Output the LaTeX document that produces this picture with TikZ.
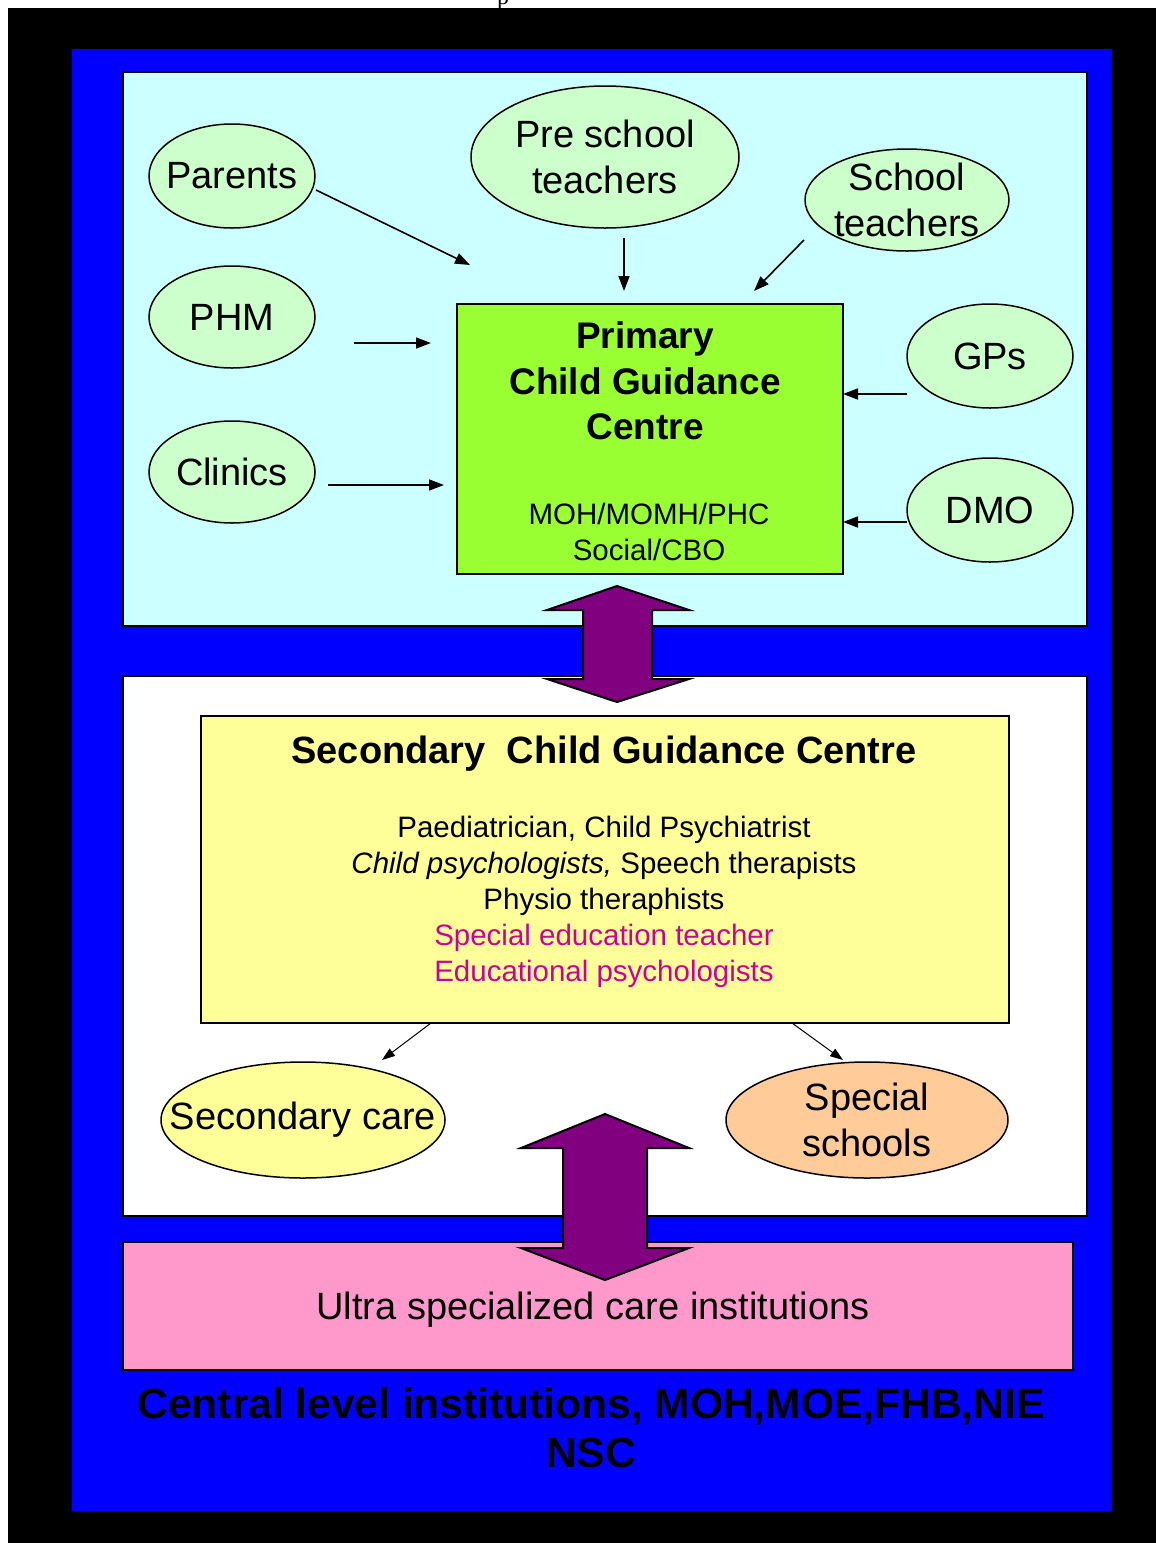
\documentclass[tikz,border=0pt]{standalone}
\usepackage{fontspec}
\setmainfont{Liberation Sans}
\newfontfamily\serifp{Liberation Serif}
\usetikzlibrary{shapes.geometric,arrows.meta}
\definecolor{cyanbg}{HTML}{CCFFFF}
\definecolor{ellgreen}{HTML}{CCFFCC}
\definecolor{primgreen}{HTML}{99FF33}
\definecolor{secyellow}{HTML}{FFFF99}
\definecolor{orangeell}{HTML}{FFCC99}
\definecolor{pinkbox}{HTML}{FF99CC}
\definecolor{purplearr}{HTML}{800080}
\definecolor{magtext}{HTML}{CC0099}
\definecolor{bluebg}{HTML}{0000FF}
\tikzset{
  panel/.style={draw=black, line width=2pt},
  oval/.style={ellipse, draw=black, line width=1.5pt, fill=ellgreen, inner sep=0pt},
  ovaltext/.style={inner sep=0pt, align=center, font=\fontsize{38}{46}\selectfont},
  ptr/.style={line width=1.6pt, -{Triangle[length=15pt,width=11pt]}},
  thinptr/.style={line width=1pt, -{Triangle[length=13pt,width=9pt]}},
  dblarrow/.style={draw=black, line width=2pt, fill=purplearr, line join=miter},
  boxnode/.style={draw=black, line width=2pt, inner sep=0pt},
  txt/.style={inner sep=0pt, align=center}
}
\begin{document}
\begin{tikzpicture}[x=1pt,y=-1pt]
\useasboundingbox (0,0) rectangle (1156,1543);
\fill[white] (0,0) rectangle (1156,1543);
\begin{scope}
\clip (0,0) rectangle (1156,8);
\node[txt, anchor=base, font=\serifp\fontsize{24}{28}\selectfont] (pfrag) at (503,4) {p};
\end{scope}
\fill[black] (8,8) rectangle (1156,1543);
\fill[bluebg] (72,49) rectangle (1112,1511);
% panels
\draw[panel, fill=cyanbg] (123,72) rectangle (1087,626);
\draw[panel, fill=white] (123,676) rectangle (1087,1216);
\draw[panel, fill=pinkbox] (123,1242) rectangle (1073,1370);

% top ellipses
\node[oval, minimum width=166pt, minimum height=104pt] (parents) at (232,176) {};
\node[ovaltext] (parentsT) at (parents.center) {Parents};
\node[oval, minimum width=268pt, minimum height=142pt] (presch) at (605,157) {};
\node[ovaltext] (preschT) at (presch.center) {Pre school\\teachers};
\node[oval, minimum width=204pt, minimum height=102pt] (schoolt) at (907,200) {};
\node[ovaltext] (schooltT) at (schoolt.center) {School\\teachers};
\node[oval, minimum width=166pt, minimum height=102pt] (phm) at (232,317) {};
\node[ovaltext] (phmT) at (phm.center) {PHM};
\node[oval, minimum width=166pt, minimum height=102pt] (clinics) at (232,472) {};
\node[ovaltext] (clinicsT) at (clinics.center) {Clinics};
\node[oval, minimum width=166pt, minimum height=104pt] (gps) at (990,356) {};
\node[ovaltext] (gpsT) at (gps.center) {GPs};
\node[oval, minimum width=166pt, minimum height=104pt] (dmo) at (990,510) {};
\node[ovaltext] (dmoT) at (dmo.center) {DMO};

% primary box
\node[boxnode, fill=primgreen, minimum width=386pt, minimum height=270pt] (primary) at (650,439) {};
\node[txt, font=\bfseries\fontsize{37}{45.5}\selectfont] (primtitle) at (645,381) {Primary\\Child Guidance\\ Centre};
\node[txt, font=\fontsize{29.5}{36}\selectfont] (primsub) at (649,532) {MOH/MOMH/PHC\\Social/CBO};

% free-floating arrow ends
\coordinate (a1s) at (316,190); \coordinate (a1e) at (470,265);
\coordinate (a2s) at (624,238); \coordinate (a2e) at (624,291);
\coordinate (a3s) at (804,240); \coordinate (a3e) at (754,291);
\coordinate (a4s) at (354,343); \coordinate (a4e) at (431,343);
\coordinate (a5s) at (328,485); \coordinate (a5e) at (444,485);
\coordinate (a6s) at (907,394); \coordinate (a6e) at (843,394);
\coordinate (a7s) at (907,522); \coordinate (a7e) at (843,522);
\draw[ptr] (a1s) -- (a1e);
\draw[ptr] (a2s) -- (a2e);
\draw[ptr] (a3s) -- (a3e);
\draw[ptr] (a4s) -- (a4e);
\draw[ptr] (a5s) -- (a5e);
\draw[ptr] (a6s) -- (a6e);
\draw[ptr] (a7s) -- (a7e);

% secondary box
\node[boxnode, fill=secyellow, minimum width=808pt, minimum height=307pt] (secondary) at (605,869.5) {};
\node[txt, font=\bfseries\fontsize{38}{45}\selectfont] (sectitle) at (604,754) {Secondary\ \ Child Guidance Centre};
\node[txt, font=\fontsize{29.5}{36}\selectfont] (secbody) at (604,902) {Paediatrician, Child Psychiatrist\\\textit{Child psychologists,} Speech therapists\\Physio theraphists\\\textcolor{magtext}{Special education teacher}\\\textcolor{magtext}{Educational psychologists}};

% secondary ellipses
\node[oval, fill=secyellow, minimum width=284pt, minimum height=116pt] (seccare) at (303,1120) {};
\node[ovaltext] (seccareT) at (seccare.center) {Secondary care};
\node[oval, fill=orangeell, minimum width=282pt, minimum height=116pt] (specsch) at (867,1120) {};
\node[ovaltext] (specschT) at (specsch.center) {Special\\schools};
\coordinate (b1s) at (431,1023); \coordinate (b1e) at (382,1060);
\coordinate (b2s) at (792,1023); \coordinate (b2e) at (843,1060);
\draw[thinptr] (b1s) -- (b1e);
\draw[thinptr] (b2s) -- (b2e);

% double arrows
\draw[dblarrow] (617,586) -- (689,610) -- (652,610) -- (652,679) -- (689,679) -- (617,702) -- (547,679) -- (583,679) -- (583,610) -- (547,610) -- cycle;
\draw[dblarrow] (605,1114) -- (689,1148) -- (647,1148) -- (647,1248) -- (689,1248) -- (605,1280) -- (521,1248) -- (563,1248) -- (563,1148) -- (521,1148) -- cycle;

% ultra text
\node[txt, font=\fontsize{38}{45}\selectfont] (ultra) at (593,1310) {Ultra specialized care institutions};
\node[txt, font=\bfseries\fontsize{42.5}{49}\selectfont] (central) at (591,1428) {Central level institutions, MOH,MOE,FHB,NIE\\NSC};
\end{tikzpicture}
\end{document}
